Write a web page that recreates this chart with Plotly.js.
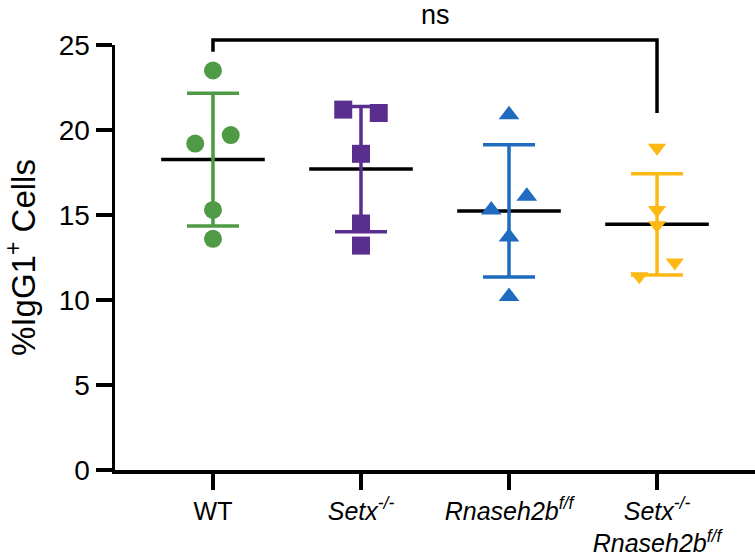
<!DOCTYPE html>
<html>
<head>
<meta charset="utf-8">
<script src="https://cdn.plot.ly/plotly-3.0.1.min.js"></script>
<style>
html, body { margin: 0; padding: 0; background: #fff; }
#chart { width: 755px; height: 558px; }
</style>
</head>
<body>
<div id="chart"></div>
<script>
// ---- data ----
var groups = ["WT", "Setx-/-", "Rnaseh2b f/f", "Setx-/- Rnaseh2b f/f"];
var tickLabels = [
  "WT",
  "<i>Setx</i><sup><i>-/-</i></sup>",
  "<i>Rnaseh2b</i><sup><i>f/f</i></sup>",
  "<i>Setx</i><sup><i>-/-</i></sup><br><i>Rnaseh2b</i><sup><i>f/f</i></sup>"
];
var wtValues = [23.5, 19.2, 19.7, 15.3, 13.6];
var setxValues = [21.2, 21.0, 18.6, 14.5, 13.2];
var rnasehValues = [20.9, 16.1, 15.3, 13.7, 10.2];
var doubleValues = [18.95, 15.3, 14.4, 12.2, 11.4];
var yTicks = [0, 5, 10, 15, 20, 25];
// significance bracket (group index, value)
var bracketGroups = [0, 0, 3, 3];
var bracketValues = [24.6, 25.3, 25.3, 21.0];
var bracketLabel = "ns";

// ---- styling (not data) ----
var jitter = [
  [0, -0.12, 0.12, 0, 0],
  [-0.12, 0.12, 0, 0, 0],
  [0, 0.12, -0.12, 0, 0],
  [0, 0, 0, 0.12, -0.12]
];
var colors = ["#4f9a44", "#5a2e8f", "#1f6bbf", "#fdb913"];
var symbols = ["circle", "square", "triangle-up", "triangle-down"];
var sizes = [18, 18, 18, 16];
var FONT = "Arial, 'Liberation Sans', sans-serif";

var allValues = [wtValues, setxValues, rnasehValues, doubleValues];

function mean(a) { return a.reduce(function (s, v) { return s + v; }, 0) / a.length; }
function sd(a) {
  var m = mean(a);
  return Math.sqrt(a.reduce(function (s, v) { return s + (v - m) * (v - m); }, 0) / (a.length - 1));
}

var traces = [];
// mean lines
traces.push({
  type: "scatter", mode: "markers",
  x: allValues.map(function (_, i) { return i; }),
  y: allValues.map(mean),
  marker: { symbol: "line-ew", size: 74, color: "#000", line: { color: "#000", width: 3.5 } },
  hoverinfo: "skip", showlegend: false
});
// error bars (SD)
allValues.forEach(function (vals, i) {
  traces.push({
    type: "scatter", mode: "markers",
    x: [i], y: [mean(vals)],
    marker: { size: 1, color: "rgba(0,0,0,0)" },
    error_y: { type: "data", array: [sd(vals)], visible: true, color: colors[i], thickness: 3.5, width: 26 },
    hoverinfo: "skip", showlegend: false
  });
});
// individual points
allValues.forEach(function (vals, i) {
  traces.push({
    type: "scatter", mode: "markers",
    x: vals.map(function (_, k) { return i + jitter[i][k]; }),
    y: vals,
    name: groups[i],
    marker: { symbol: symbols[i], size: sizes[i], color: colors[i], line: { width: 0 } },
    showlegend: false
  });
});

var yMax = 25;
var bracketPath = bracketGroups.map(function (g, k) {
  return (k === 0 ? "M" : "L") + g + "," + (bracketValues[k] / yMax);
}).join(" ");

var layout = {
  width: 755, height: 558,
  margin: { l: 115, r: 0, t: 45, b: 88 },
  paper_bgcolor: "#fff", plot_bgcolor: "#fff",
  showlegend: false,
  font: { family: FONT, color: "#000" },
  xaxis: {
    range: [-0.662, 3.662],
    tickmode: "array", tickvals: [0, 1, 2, 3], ticktext: tickLabels,
    showline: true, linewidth: 3.5, linecolor: "#000",
    ticks: "outside", ticklen: 16, tickwidth: 3.5, tickcolor: "#000",
    tickfont: { family: FONT, size: 25, color: "#000" },
    showgrid: false, zeroline: false, fixedrange: true
  },
  yaxis: {
    range: [0, yMax],
    tickmode: "array", tickvals: yTicks, ticktext: yTicks.map(String),
    showline: true, linewidth: 3.5, linecolor: "#000",
    ticks: "outside", ticklen: 16, tickwidth: 3.5, tickcolor: "#000",
    tickfont: { family: FONT, size: 28, color: "#000" },
    title: { text: "%IgG1<sup>+</sup> Cells", font: { family: FONT, size: 33, color: "#000" }, standoff: 18 },
    showgrid: false, zeroline: false, fixedrange: true
  },
  shapes: [{
    type: "path", xref: "x", yref: "paper",
    path: bracketPath,
    line: { color: "#000", width: 3.5 }
  }],
  annotations: [{
    x: (bracketGroups[0] + bracketGroups[3]) / 2, xref: "x",
    y: 1.071, yref: "paper",
    text: bracketLabel, showarrow: false,
    xanchor: "center", yanchor: "middle",
    font: { family: FONT, size: 27, color: "#000" }
  }]
};

Plotly.newPlot("chart", traces, layout, { staticPlot: true, displayModeBar: false });
</script>
</body>
</html>
